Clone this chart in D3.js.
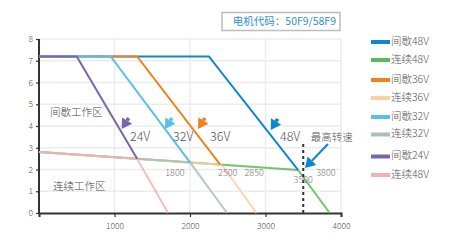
<!DOCTYPE html>
<html>
<head>
<meta charset="utf-8">
<script src="https://cdn.jsdelivr.net/npm/d3@7"></script>
<style>
body{margin:0;background:#fff;}
text{font-family:"Noto Sans CJK SC","Noto Sans",sans-serif;font-weight:300;}
</style>
</head>
<body>
<script>
// speed (rpm) / torque (N.m) points
const peak48 = [[0,7.2],[2250,7.2],[3430,1.98]];
const peak36 = [[0,7.2],[1300,7.2],[2400,2.22]];
const peak32 = [[0,7.2],[950,7.2],[2000,2.33]];
const peak24 = [[0,7.2],[500,7.2],[1300,2.49]];
const cont48 = [[0,2.8],[3430,1.98],[3850,0]];
const cont36 = [[0,2.8],[2400,2.22],[2440,2.13],[2880,0]];
const cont32 = [[0,2.8],[2000,2.33],[2490,0]];
const cont24 = [[0,2.8],[1300,2.49],[1710,0]];

const legendNames = ["间歇48V","连续48V","间歇36V","连续36V","间歇32V","连续32V","间歇24V","连续48V"];
const colors = ["#0b88d2","#5cb85c","#f0821e","#fbcf9f","#5bbfec","#a9c0bb","#7a66ad","#f2b1b1"];
const xTicks = [0,1000,2000,3000,4000];
const yTicks = [0,1,2,3,4,5,6,7,8];
const speedLabels = [[1800,1.8],[2500,1.8],[2850,1.8],[3500,1.5],[3800,1.8]];
const maxSpeed = 3500;

const m = {width:451, height:243};
const svg = d3.select("body").append("svg")
    .attr("width",m.width)
    .attr("height",m.height);

const x = d3.scaleLinear().domain([0,4000]).range([39,341]);
const y = d3.scaleLinear().domain([0,8]).range([213,39]);

// grid
const g = svg.append("g");
g.selectAll(".gx").data(xTicks.slice(1)).enter().append("line")
    .attr("x1",d=>x(d)).attr("x2",d=>x(d)).attr("y1",y(0)).attr("y2",y(8))
    .attr("stroke","#ececec").attr("stroke-width",1.5);
g.selectAll(".gy").data(yTicks.slice(1)).enter().append("line")
    .attr("x1",x(0)).attr("x2",x(4000)).attr("y1",d=>y(d)).attr("y2",d=>y(d))
    .attr("stroke","#ececec").attr("stroke-width",1.5);

// axes
const ax = svg.append("g").attr("transform","translate(0,"+y(0)+")")
    .call(d3.axisBottom(x).tickValues(xTicks).tickSize(4).tickFormat(d=>d===0?"":d));
const ay = svg.append("g").attr("transform","translate("+x(0)+",0)")
    .call(d3.axisLeft(y).tickValues(yTicks).tickSize(3));
[ax,ay].forEach(a=>{
  a.select(".domain").attr("stroke","#333").attr("stroke-width",2);
  a.selectAll(".tick line").attr("stroke","#333").attr("stroke-width",1.2);
  a.selectAll("text").attr("fill","#555").style("font-size","8.5px")
    .style("font-family","Noto Sans CJK SC, sans-serif").style("font-weight","300");
});
ax.selectAll("text").attr("dy","1.1em");
ay.selectAll(".domain").attr("d","M0,"+y(8)+"V"+y(0));

const line = d3.line().x(d=>x(d[0])).y(d=>y(d[1]));

// continuous curves
const conts = [[cont48,colors[1]],[cont36,colors[3]],[cont32,colors[5]],[cont24,colors[7]]];
svg.append("g").selectAll("path").data(conts).enter().append("path")
    .attr("d",d=>line(d[0])).attr("fill","none")
    .attr("stroke",d=>d[1]).attr("stroke-width",2).attr("opacity",0.85);

// intermittent curves
const peaks = [[peak48,colors[0]],[peak36,colors[2]],[peak32,colors[4]],[peak24,colors[6]]];
svg.append("g").selectAll("path").data(peaks).enter().append("path")
    .attr("d",d=>line(d[0])).attr("fill","none")
    .attr("stroke",d=>d[1]).attr("stroke-width",2);

// max speed marker
svg.append("line")
    .attr("x1",x(maxSpeed)).attr("x2",x(maxSpeed)).attr("y1",y(0)).attr("y2",y(3.25))
    .attr("stroke","#333").attr("stroke-width",2).attr("stroke-dasharray","3,3");

svg.append("g").selectAll("text").data(speedLabels).enter().append("text")
    .attr("x",d=>x(d[0])).attr("y",d=>y(d[1]))
    .attr("text-anchor","middle").attr("dominant-baseline","middle")
    .attr("fill","#777").style("font-size","9px")
    .text(d=>d[0]);

// arrows: tip in data space, tail offset in px
function arrow(tip,dx,dy,color,shaft,head){
  const tx=x(tip[0]), ty=y(tip[1]);
  const len=Math.hypot(dx,dy), ux=dx/len, uy=dy/len;
  const bx=tx+ux*head, by=ty+uy*head;
  svg.append("line").attr("x1",bx).attr("y1",by).attr("x2",tx+dx).attr("y2",ty+dy)
    .attr("stroke",color).attr("stroke-width",shaft);
  const w=head*0.6;
  svg.append("path")
    .attr("d","M"+tx+","+ty+"L"+(bx-uy*w)+","+(by+ux*w)+"L"+(bx+uy*w)+","+(by-ux*w)+"Z")
    .attr("fill",color);
}
const arrowTips = [[1095,3.86],[1669,3.86],[2106,3.86],[3069,3.82]];
const arrowLabels = [["24V",1205],["32V",1775],["36V",2265],["48V",3192]];
const arrowColors = [colors[6],colors[4],colors[2],colors[0]];
arrowTips.forEach((t,i)=>arrow(t,7,-11,arrowColors[i],3.5,10));
svg.append("g").selectAll("text").data(arrowLabels).enter().append("text")
    .attr("x",d=>x(d[1])).attr("y",y(3.48))
    .attr("dominant-baseline","middle")
    .attr("fill","#555").style("font-size","12.5px")
    .text(d=>d[0]);

arrow([3523,2.07],23,-24,colors[0],2,10);
svg.append("text").attr("x",x(3600)).attr("y",y(3.45))
    .attr("dominant-baseline","middle").attr("fill","#555").style("font-size","10.5px")
    .text("最高转速");

// zone labels
svg.append("text").attr("x",50).attr("y",y(4.6)).attr("dominant-baseline","middle")
    .attr("fill","#444").style("font-size","10.5px").text("间歇工作区");
svg.append("text").attr("x",53).attr("y",y(1.2)).attr("dominant-baseline","middle")
    .attr("fill","#444").style("font-size","10.5px").text("连续工作区");

// motor code box
svg.append("rect").attr("x",222).attr("y",12.5).attr("width",118).attr("height",18)
    .attr("fill","#fff").attr("stroke","#bdbdbd").attr("stroke-width",1.5);
svg.append("text").attr("x",336).attr("y",22).attr("text-anchor","end")
    .attr("dominant-baseline","middle").attr("fill","#2e90d0").style("font-size","10.5px")
    .style("font-weight","400").text("电机代码：50F9/58F9");

// legend
const legendY = [42,60,80,98,117,134.5,156.5,175];
const lg = svg.append("g").selectAll("g").data(legendNames).enter().append("g")
    .attr("transform",(d,i)=>"translate(371,"+legendY[i]+")");
lg.append("line").attr("x1",0).attr("x2",19).attr("stroke",(d,i)=>colors[i]).attr("stroke-width",4);
lg.append("text").attr("x",20).attr("dominant-baseline","middle")
    .attr("fill","#555").style("font-size","10.5px").text(d=>d);
</script>
</body>
</html>
